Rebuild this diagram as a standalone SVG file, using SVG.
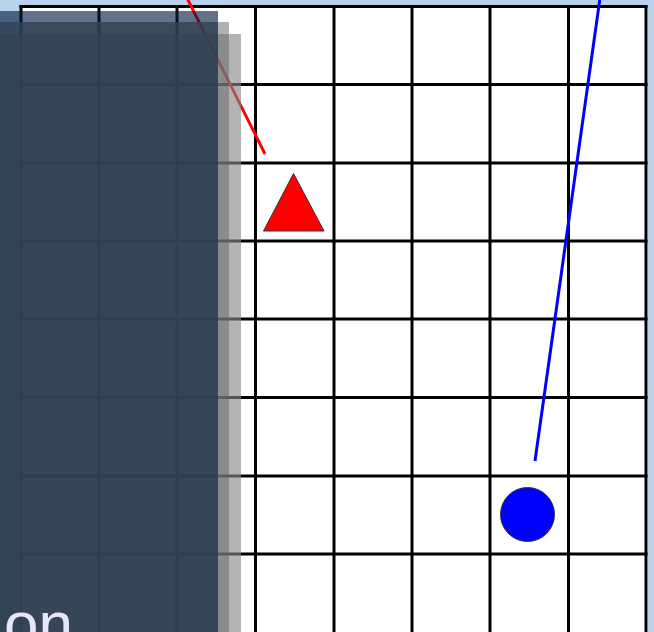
<svg xmlns="http://www.w3.org/2000/svg" width="654" height="632" viewBox="0 0 654 632">
  <style>
    .grid line { stroke: #000; stroke-width: 3; }
    .shape { stroke: #333; stroke-width: 1; }
  </style>
  <rect x="0" y="0" width="654" height="632" fill="#b9d1ea"/>
  <g id="board">
    <rect x="20" y="5" width="628" height="630" fill="#fff"/>
    <g class="grid">
      <line x1="21" y1="5" x2="21" y2="632"/>
      <line x1="99" y1="5" x2="99" y2="632"/>
      <line x1="177" y1="5" x2="177" y2="632"/>
      <line x1="255.5" y1="5" x2="255.5" y2="632"/>
      <line x1="334" y1="5" x2="334" y2="632"/>
      <line x1="412" y1="5" x2="412" y2="632"/>
      <line x1="490" y1="5" x2="490" y2="632"/>
      <line x1="568.5" y1="5" x2="568.5" y2="632"/>
      <line x1="646" y1="5" x2="646" y2="632"/>
      <line x1="19.5" y1="6.5" x2="647.5" y2="6.5"/>
      <line x1="19.5" y1="84.5" x2="647.5" y2="84.5"/>
      <line x1="19.5" y1="163" x2="647.5" y2="163"/>
      <line x1="19.5" y1="241" x2="647.5" y2="241"/>
      <line x1="19.5" y1="319" x2="647.5" y2="319"/>
      <line x1="19.5" y1="397.5" x2="647.5" y2="397.5"/>
      <line x1="19.5" y1="476" x2="647.5" y2="476"/>
      <line x1="19.5" y1="554" x2="647.5" y2="554"/>
    </g>
  </g>
  <g id="connectors" fill="none" stroke-width="3">
    <line x1="187" y1="-2" x2="265" y2="154" stroke="#f00"/>
    <line x1="600" y1="-2" x2="535" y2="461" stroke="#00f"/>
  </g>
  <g id="triangle">
    <polygon class="shape" points="293.5,173.5 263.5,231 324,231" fill="#f00"/>
  </g>
  <g id="circle">
    <circle class="shape" cx="527.5" cy="514.5" r="27" fill="#00f"/>
  </g>
  <g id="panel">
    <rect x="0" y="34" width="241" height="600" fill="#878787" fill-opacity="0.63"/>
    <rect x="0" y="22" width="229" height="612" fill="#646464" fill-opacity="0.5"/>
    <rect x="0" y="11" width="218" height="11" fill="#031a42" fill-opacity="0.62"/>
    <rect x="0" y="22" width="218" height="612" fill="#27394f" fill-opacity="0.85"/>
    <text x="4" y="645" font-family="'Liberation Sans', Arial, sans-serif" font-size="62" fill="#e6e6fa">on</text>
  </g>
</svg>
